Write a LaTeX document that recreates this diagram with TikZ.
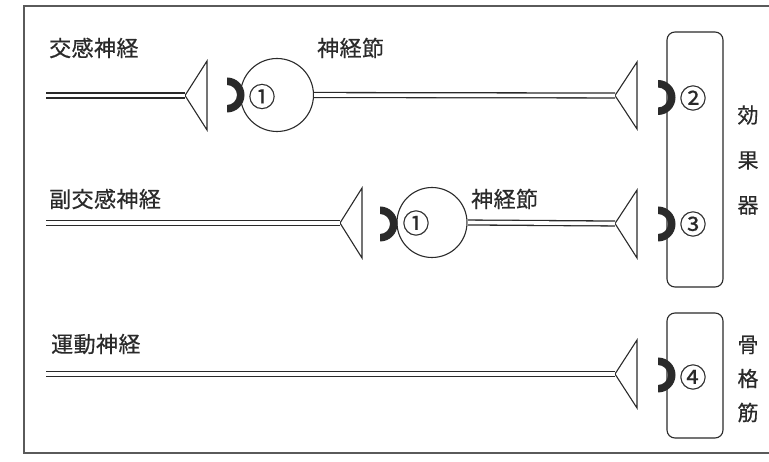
\documentclass[tikz,border=0pt]{standalone}
\usepackage{fontspec}
\newfontfamily\jpfont[LetterSpace=2,FakeBold=0.5]{Noto Sans CJK JP}
\newfontfamily\jpplain[FakeBold=0.5]{Noto Sans CJK JP}
\definecolor{ink}{HTML}{2A2A2A}
\definecolor{framegray}{HTML}{5A5A5A}

\begin{document}
\begin{tikzpicture}[x=1pt,y=1pt]
\tikzstyle{every node}+=[inner sep=0pt, text=ink]
\tikzstyle{nerve}=[draw=ink, line width=1.3pt, double=white, double distance=3.6pt]
\tikzstyle{knob}=[draw=ink, line width=1.1pt, line join=miter]
\tikzstyle{cupfill}=[fill=ink]
\tikzstyle{ganglion}=[draw=ink, line width=1.1pt, circle]
\tikzstyle{organ}=[draw=ink, line width=1.1pt, rounded corners=8pt, minimum width=56pt]
\tikzstyle{nervelab}=[font=\jpfont\fontsize{22}{24}\selectfont, anchor=west]
\tikzstyle{numlab}=[font=\jpplain\fontsize{27}{28}\selectfont]
\useasboundingbox (0,0) rectangle (769,-462);
\draw [framegray, line width=1.3pt] (769,-6) -- (24,-6) -- (24,-453) -- (769,-453);
% effector organs
\node [organ, minimum height=255pt] (eff) at (695,-159.5) {};
\node [organ, minimum height=125pt] (musc) at (695,-375.5) {};
\node [font=\jpplain\fontsize{21}{45}\selectfont, align=center] (efflab) at (748,-160) {効\\果\\器};
\node [font=\jpplain\fontsize{21}{34}\selectfont, align=center] (musclab) at (748,-379) {骨\\格\\筋};
% sympathetic
\node [nervelab] (symlab) at (49,-48) {交感神経};
\coordinate (s1) at (46,-95.5);
\coordinate (t1) at (185,-95.5);
\draw [knob] (t1) -- (207,-61) -- (207,-130) -- cycle;
\draw [nerve] (s1) -- (t1);
\fill [cupfill] (227,-77.5) arc [start angle=90, end angle=-90, radius=17.5] -- ++(0,7.5) arc [start angle=-90, end angle=90, radius=10] -- cycle;
\node [ganglion, minimum size=73pt] (g1) at (277,-95) {};
\node [numlab] (n1) at (262,-96.5) {①};
\node [nervelab] (gl1) at (317,-48) {神経節};
\coordinate (t2) at (615,-95.5);
\draw [knob] (t2) -- (637,-62) -- (637,-129) -- cycle;
\draw [nerve] (g1.east) -- (t2);
\fill [cupfill] (658,-80) arc [start angle=90, end angle=-90, radius=17.5] -- ++(0,7.5) arc [start angle=-90, end angle=90, radius=10] -- cycle;
\node [numlab] (n2) at (693,-98) {②};
% parasympathetic
\node [nervelab] (paralab) at (49,-199) {副交感神経};
\coordinate (s2) at (46,-223);
\coordinate (t3) at (340,-223);
\draw [knob] (t3) -- (362,-188) -- (362,-258) -- cycle;
\draw [nerve] (s2) -- (t3);
\fill [cupfill] (380,-206.5) arc [start angle=90, end angle=-90, radius=17.5] -- ++(0,7.5) arc [start angle=-90, end angle=90, radius=10] -- cycle;
\node [ganglion, minimum size=70pt] (g2) at (432,-222.5) {};
\node [numlab] (n3) at (416,-223) {①};
\node [nervelab] (gl2) at (471,-199) {神経節};
\coordinate (t4) at (615,-223.5);
\draw [knob] (t4) -- (637,-190) -- (637,-258) -- cycle;
\draw [nerve] (g2.east) -- (t4);
\fill [cupfill] (658,-206.5) arc [start angle=90, end angle=-90, radius=17.5] -- ++(0,7.5) arc [start angle=-90, end angle=90, radius=10] -- cycle;
\node [numlab] (n4) at (693,-224) {③};
% motor
\node [nervelab] (motlab) at (51,-344) {運動神経};
\coordinate (s3) at (46,-374);
\coordinate (t5) at (615,-374);
\draw [knob] (t5) -- (637,-340) -- (637,-408) -- cycle;
\draw [nerve] (s3) -- (t5);
\fill [cupfill] (658,-357.5) arc [start angle=90, end angle=-90, radius=17.5] -- ++(0,7.5) arc [start angle=-90, end angle=90, radius=10] -- cycle;
\node [numlab] (n5) at (693,-377) {④};
\end{tikzpicture}
\end{document}
